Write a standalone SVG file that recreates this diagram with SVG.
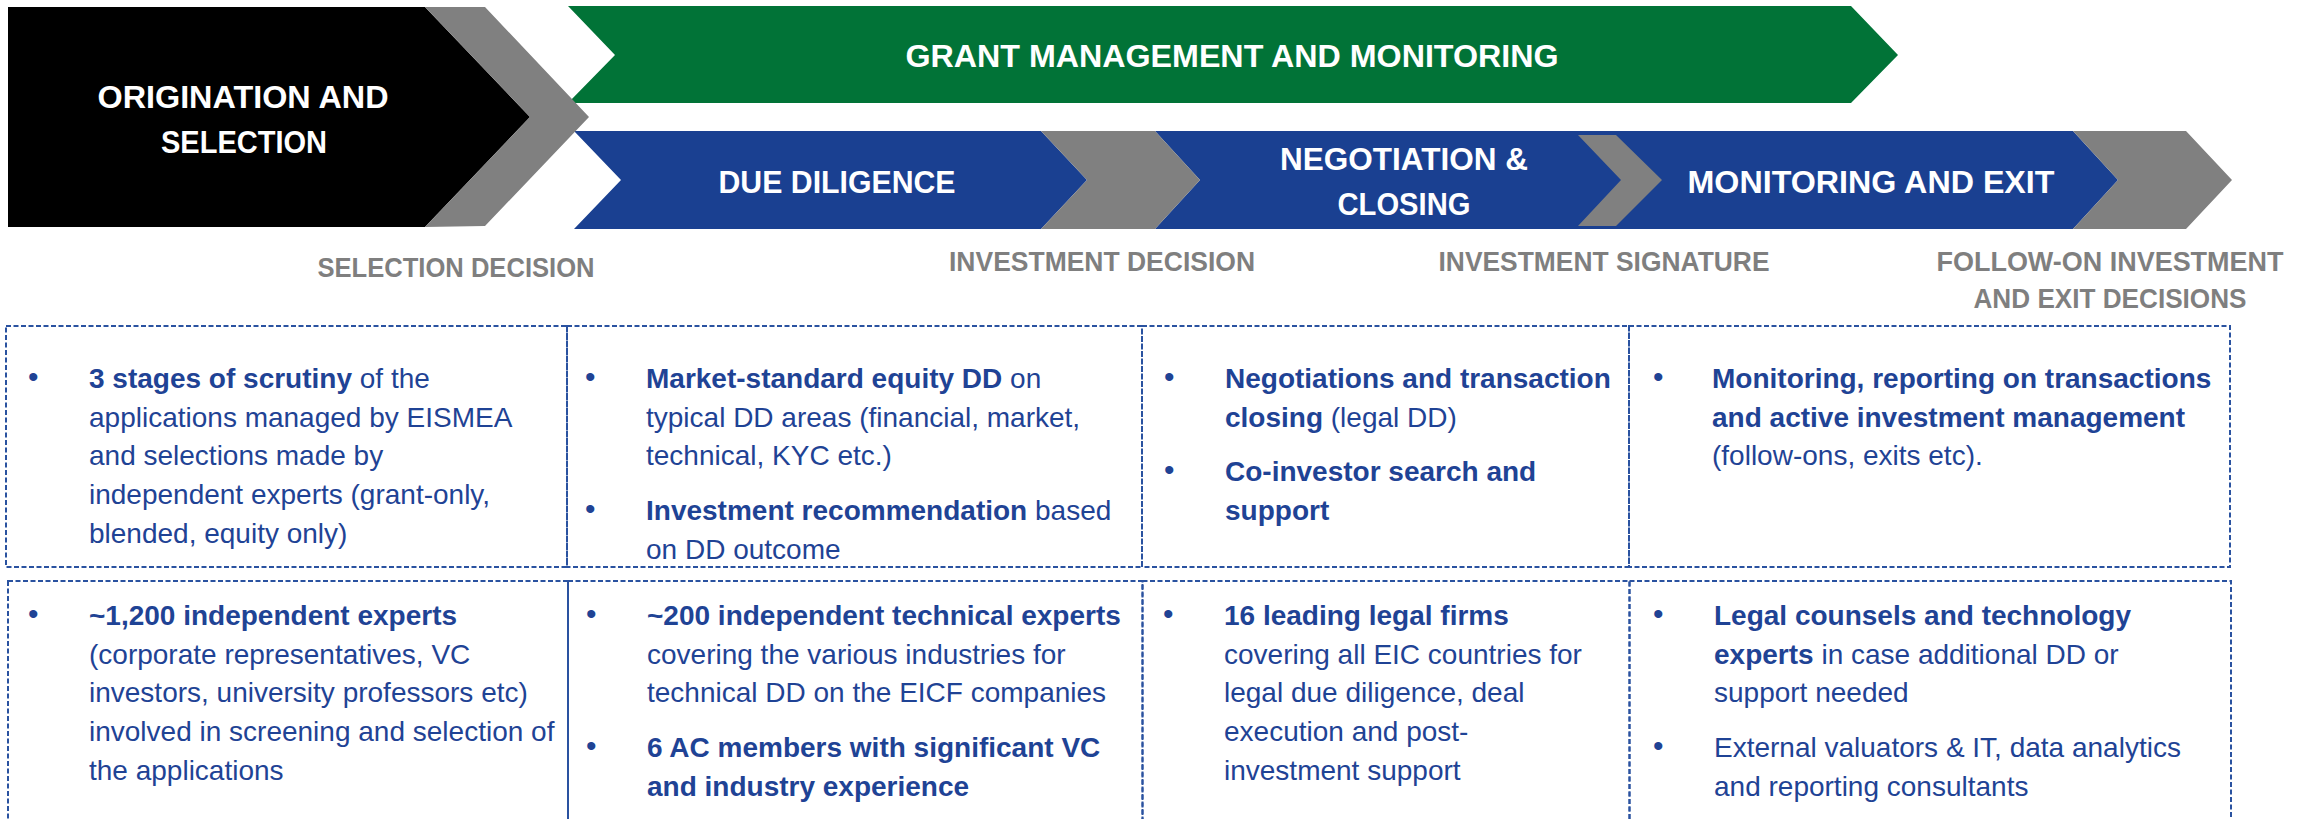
<svg xmlns="http://www.w3.org/2000/svg" width="2308" height="819" viewBox="0 0 2308 819">
<style>
  .hd { font-family: "Liberation Sans", Arial, sans-serif; font-weight: bold; font-size: 32px; fill: #ffffff; text-anchor: middle; }
  .lb { font-family: "Liberation Sans", Arial, sans-serif; font-weight: bold; font-size: 27px; fill: #7f7f7f; text-anchor: middle; }
  .tx { font-family: "Liberation Sans", Arial, sans-serif; font-size: 28px; fill: #1f4395; }
  .b { font-weight: bold; }
  .bul { font-family: "Liberation Sans", Arial, sans-serif; font-size: 30px; fill: #1f4395; }
  .cell { fill: none; stroke: #2a52a0; stroke-width: 2; stroke-dasharray: 5 2.5; }
  .gray { fill: #808080; }
  .blue { fill: #1a4091; }
</style>
<rect width="2308" height="819" fill="#ffffff"/>

<g id="origination">
  <polygon points="8,7 425,7 530,117 425,227 8,227" fill="#000000"/>
  <text class="hd" x="243" y="108" textLength="291" lengthAdjust="spacingAndGlyphs">ORIGINATION AND</text>
  <text class="hd" x="244" y="153" textLength="166" lengthAdjust="spacingAndGlyphs">SELECTION</text>
</g>

<g id="grant-management">
  <polygon points="568,6 1851,6 1898,55 1851,103 568,103 615,55" fill="#017337"/>
  <text class="hd" x="1232" y="67" textLength="653" lengthAdjust="spacingAndGlyphs">GRANT MANAGEMENT AND MONITORING</text>
</g>

<g id="due-diligence">
  <polygon class="blue" points="574,131 1041,131 1087,180 1041,229 574,229 621,180"/>
  <text class="hd" x="837" y="193" textLength="237" lengthAdjust="spacingAndGlyphs">DUE DILIGENCE</text>
</g>

<g id="negotiation-monitoring">
  <polygon class="blue" points="1155,131 2073,131 2118,180 2073,229 1155,229 1200,180"/>
  <text class="hd" x="1404" y="170" textLength="248" lengthAdjust="spacingAndGlyphs">NEGOTIATION &amp;</text>
  <text class="hd" x="1404" y="215" textLength="133" lengthAdjust="spacingAndGlyphs">CLOSING</text>
  <text class="hd" x="1871" y="193" textLength="367" lengthAdjust="spacingAndGlyphs">MONITORING AND EXIT</text>
</g>

<g id="connectors">
  <polygon class="gray" points="425,7 485,7 589,117 485,226 425,227 530,117"/>
  <polygon class="gray" points="1041,131 1155,131 1200,180 1155,229 1041,229 1087,180"/>
  <polygon class="gray" points="1578,135 1616,135 1662,180 1616,226 1578,226 1621,180"/>
  <polygon class="gray" points="2073,131 2186,131 2232,180 2186,229 2073,229 2118,180"/>
</g>

<g id="decision-labels">
  <text class="lb" x="456" y="277" textLength="277" lengthAdjust="spacingAndGlyphs">SELECTION DECISION</text>
  <text class="lb" x="1102" y="271" textLength="306" lengthAdjust="spacingAndGlyphs">INVESTMENT DECISION</text>
  <text class="lb" x="1604" y="271" textLength="331" lengthAdjust="spacingAndGlyphs">INVESTMENT SIGNATURE</text>
  <text class="lb" x="2110" y="271" textLength="347" lengthAdjust="spacingAndGlyphs">FOLLOW-ON INVESTMENT</text>
  <text class="lb" x="2110" y="308" textLength="273" lengthAdjust="spacingAndGlyphs">AND EXIT DECISIONS</text>
</g>

<g id="activities-selection">
  <rect class="cell" x="6" y="326" width="561" height="241"/>
  <text class="bul" x="28" y="387">•</text>
  <text class="tx" x="89" y="388"><tspan class="b">3 stages of scrutiny</tspan> of the</text>
  <text class="tx" x="89" y="426.7">applications managed by EISMEA</text>
  <text class="tx" x="89" y="465.4">and selections made by</text>
  <text class="tx" x="89" y="504.1">independent experts (grant-only,</text>
  <text class="tx" x="89" y="542.8">blended, equity only)</text>
</g>

<g id="activities-dd">
  <rect class="cell" x="567" y="326" width="575" height="241"/>
  <text class="bul" x="585" y="387">•</text>
  <text class="tx" x="646" y="388"><tspan class="b">Market-standard equity DD</tspan> on</text>
  <text class="tx" x="646" y="426.7">typical DD areas (financial, market,</text>
  <text class="tx" x="646" y="465.4">technical, KYC etc.)</text>
  <text class="bul" x="585" y="519">•</text>
  <text class="tx" x="646" y="520"><tspan class="b">Investment recommendation</tspan> based</text>
  <text class="tx" x="646" y="558.7">on DD outcome</text>
</g>

<g id="activities-negotiation">
  <rect class="cell" x="1142" y="326" width="487" height="241"/>
  <text class="bul" x="1164" y="387">•</text>
  <text class="tx b" x="1225" y="388">Negotiations and transaction</text>
  <text class="tx" x="1225" y="426.7"><tspan class="b">closing</tspan> (legal DD)</text>
  <text class="bul" x="1164" y="480">•</text>
  <text class="tx b" x="1225" y="481">Co-investor search and</text>
  <text class="tx b" x="1225" y="519.7">support</text>
</g>

<g id="activities-monitoring">
  <rect class="cell" x="1629" y="326" width="601" height="241"/>
  <text class="bul" x="1653" y="387">•</text>
  <text class="tx b" x="1712" y="388">Monitoring, reporting on transactions</text>
  <text class="tx b" x="1712" y="426.7">and active investment management</text>
  <text class="tx" x="1712" y="465.4">(follow-ons, exits etc).</text>
</g>

<g id="resources-selection">
  <rect class="cell" x="8" y="581" width="560" height="260"/>
  <text class="bul" x="28" y="624">•</text>
  <text class="tx b" x="89" y="625">~1,200 independent experts</text>
  <text class="tx" x="89" y="663.7">(corporate representatives, VC</text>
  <text class="tx" x="89" y="702.4">investors, university professors etc)</text>
  <text class="tx" x="89" y="741.1">involved in screening and selection of</text>
  <text class="tx" x="89" y="779.8">the applications</text>
</g>

<g id="resources-dd">
  <rect class="cell" x="568" y="581" width="574.5" height="260"/>
  <text class="bul" x="586" y="624">•</text>
  <text class="tx b" x="647" y="625">~200 independent technical experts</text>
  <text class="tx" x="647" y="663.7">covering the various industries for</text>
  <text class="tx" x="647" y="702.4">technical DD on the EICF companies</text>
  <text class="bul" x="586" y="756">•</text>
  <text class="tx b" x="647" y="757">6 AC members with significant VC</text>
  <text class="tx b" x="647" y="795.7">and industry experience</text>
</g>

<g id="resources-negotiation">
  <rect class="cell" x="1142.5" y="581" width="487" height="260"/>
  <text class="bul" x="1163" y="624">•</text>
  <text class="tx b" x="1224" y="625">16 leading legal firms</text>
  <text class="tx" x="1224" y="663.7">covering all EIC countries for</text>
  <text class="tx" x="1224" y="702.4">legal due diligence, deal</text>
  <text class="tx" x="1224" y="741.1">execution and post-</text>
  <text class="tx" x="1224" y="779.8">investment support</text>
</g>

<g id="resources-monitoring">
  <rect class="cell" x="1629.5" y="581" width="601.5" height="260"/>
  <text class="bul" x="1653" y="624">•</text>
  <text class="tx b" x="1714" y="625">Legal counsels and technology</text>
  <text class="tx" x="1714" y="663.7"><tspan class="b">experts</tspan> in case additional DD or</text>
  <text class="tx" x="1714" y="702.4">support needed</text>
  <text class="bul" x="1653" y="756">•</text>
  <text class="tx" x="1714" y="757">External valuators &amp; IT, data analytics</text>
  <text class="tx" x="1714" y="795.7">and reporting consultants</text>
</g>
</svg>
